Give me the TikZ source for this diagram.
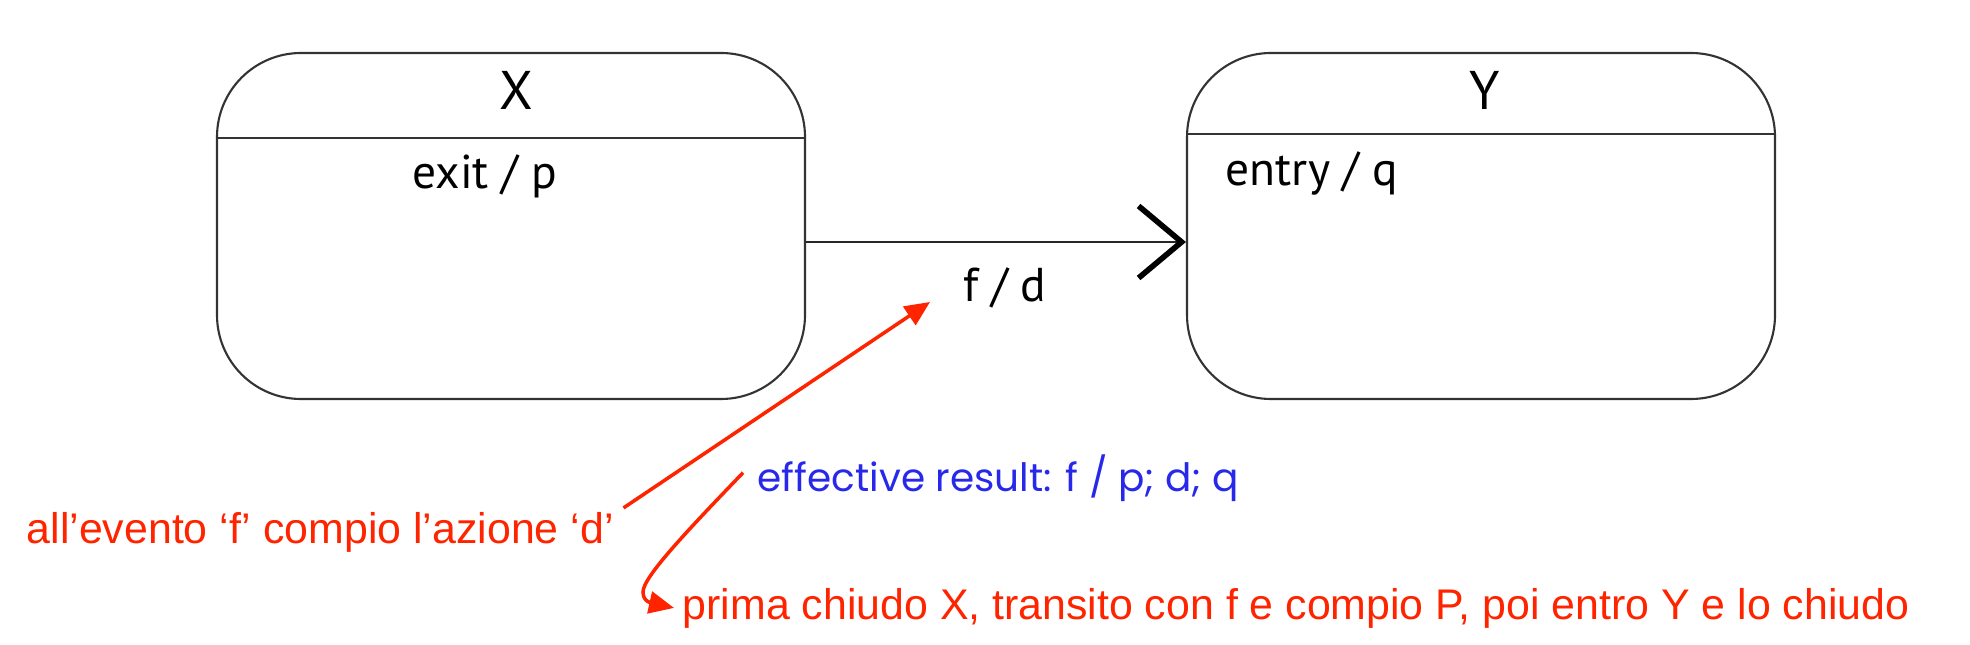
\documentclass[tikz,border=0pt]{standalone}
\usepackage{fontspec}
\setmainfont{Liberation Sans}
\newfontfamily\statefont{PT Sans}
\newfontfamily\resultfont{Poppins}
\usetikzlibrary{arrows.meta}
\definecolor{notered}{RGB}{255,36,0}
\definecolor{resultblue}{RGB}{40,40,235}

\begin{document}
\begin{tikzpicture}[
  statebox/.style={draw=black!80,line width=0.6pt,rounded corners=8.4mm,minimum width=5.88cm,minimum height=3.46cm,inner sep=0pt},
  statename/.style={font=\statefont\fontsize{15.5}{18}\selectfont,inner sep=0pt,anchor=base},
  statetext/.style={font=\statefont\fontsize{13.5}{16}\selectfont,inner sep=0pt,anchor=base west},
  note/.style={text=notered,font=\fontsize{12.2}{14}\selectfont,inner sep=0pt,anchor=base west},
  notearrow/.style={draw=notered,line width=1pt,-{Triangle[length=2.5mm,width=2.2mm]}}
]
\useasboundingbox (0,0) rectangle (19.7,6.44);
%\draw[step=1cm,gray,very thin] (0,0) grid (19,6);
\node[statebox] (X) at (5.11,4.18) {};
\node[statebox] (Y) at (14.81,4.18) {};
\coordinate (xdiv) at (0,5.06);
\coordinate (ydiv) at (0,5.10);
\draw[black!80,line width=0.6pt] (X.west |- xdiv) -- (X.east |- xdiv);
\draw[black!80,line width=0.6pt] (Y.west |- ydiv) -- (Y.east |- ydiv);
\node[statename] (xname) at (5.16,5.34) {X};
\node[statename] (yname) at (14.85,5.34) {Y};
\node[statetext] (xexit) at (4.12,4.55) {exit / p};
\node[statetext] (yentry) at (12.25,4.58) {entry / q};
% transition X -> Y
\coordinate (tr) at (0,4.02);
\draw[black!85,line width=0.6pt,-{Straight Barb[length=4.3mm,width=7.2mm,line width=1.6pt,color=black]}] (X.east |- tr) -- (Y.west |- tr);
\node[statetext] (fd) at (9.63,3.42) {f / d};
% notes
\node[note] (evnote) at (0.26,1.01) {all’evento ‘f’ compio l’azione ‘d’};
\node[anchor=base west,inner sep=0pt,text=resultblue,font=\resultfont\fontsize{11.1}{13}\selectfont] (result) at (7.57,1.52) {effective result: f / p; d; q};
\node[note] (plan) at (6.82,0.25) {prima chiudo X, transito con f e compio P, poi entro Y e lo chiudo};
\draw[notearrow] ([xshift=0.9mm,yshift=2.4mm]evnote.east) -- ([xshift=-3.3mm,yshift=0mm]fd.base west);
\draw[notearrow] ([xshift=-1.4mm,yshift=0.6mm]result.west) .. controls (6.88,1.14) and (6.43,0.67) .. (6.43,0.52) .. controls (6.43,0.42) and (6.52,0.41) .. ([xshift=-0.8mm]plan.west);
\end{tikzpicture}
\end{document}
